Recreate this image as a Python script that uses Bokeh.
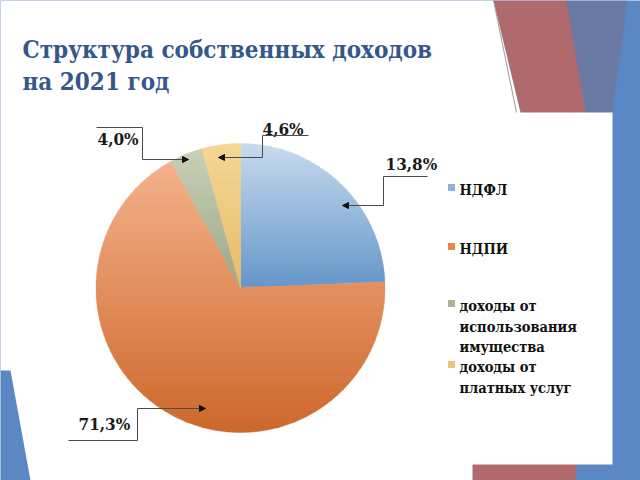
import numpy as np
from bokeh.plotting import figure
from bokeh.models import Range1d, Arrow, NormalHead
from bokeh.core.properties import value
from bokeh.embed import file_html
from bokeh.resources import INLINE

# ---------------- data ----------------
title_lines = ["Структура собственных доходов", "на 2021 год"]
categories = ["НДФЛ", "НДПИ", "доходы от использования имущества", "доходы от платных услуг"]
legend_lines = [["НДФЛ"], ["НДПИ"], ["доходы от", "использования", "имущества"], ["доходы от", "платных услуг"]]
slice_share = [24.3, 67.7, 3.7, 4.3]          # shares as drawn in the picture (%)
label_text = ["13,8%", "71,3%", "4,0%", "4,6%"]  # data labels as printed
top_colors = ["#c8dbee", "#f5b28c", "#cad0b6", "#f4d795"]
bottom_colors = ["#6596c9", "#cd682c", "#9ca889", "#e8bb6a"]
legend_colors = ["#8fb2da", "#e3874f", "#aab496", "#edc576"]

FONT = value("DejaVu Serif Condensed")

H = 480
p = figure(width=640, height=H, output_backend="svg", toolbar_location=None,
           x_range=Range1d(0, 640), y_range=Range1d(H, 0), min_border=0,
           background_fill_color="#5b87c4", border_fill_color="#5b87c4")
p.axis.visible = False
p.grid.visible = False
p.outline_line_color = None

# ---------------- slide decoration ----------------
p.patch([493, 566, 590, 575, 470, 520], [0, 0, 112, 480, 480, 112], fill_color="#b06a6e", line_color=None)
p.patch([566, 627, 612, 585], [0, 0, 112, 112], fill_color="#6b7aa5", line_color=None)
# white slide body and chart area
p.patch([0, 493, 520, 612, 612, 472, 472, 0], [0, 0, 112, 112, 464, 464, 480, 480],
        fill_color="white", line_color=None)
p.patch([0, 10, 30, 0], [370, 370, 480, 480], fill_color="#5b87c4", line_color=None)
p.line([493, 516], [0, 112], line_color="#9a9a9a", line_width=1)

# ---------------- title ----------------
p.text(x=[22, 22], y=[49, 81], text=title_lines, text_font=FONT, text_font_style="bold",
       text_font_size="24px", text_color="#36578a", text_baseline="alphabetic")

# ---------------- pie with vertical gradient per slice ----------------
cx, cy, R = 240.0, 287.5, 144.5


def hex2rgb(h):
    h = h.lstrip("#")
    return np.array([int(h[i:i + 2], 16) for i in (0, 2, 4)], dtype=float)


def rgb2hex(c):
    c = np.clip(np.round(c), 0, 255).astype(int)
    return "#%02x%02x%02x" % tuple(c)


def clip_half(poly, y0, keep_below):
    out = []
    n = len(poly)
    for i in range(n):
        a = poly[i]
        b = poly[(i + 1) % n]
        ina = a[1] >= y0 if keep_below else a[1] <= y0
        inb = b[1] >= y0 if keep_below else b[1] <= y0
        if ina:
            out.append(a)
        if ina != inb:
            t = (y0 - a[1]) / (b[1] - a[1])
            out.append((a[0] + t * (b[0] - a[0]), y0))
    return out


xs_all, ys_all, cols_all = [], [], []
cum = 0.0
for i, share in enumerate(slice_share):
    a0 = np.pi / 2 - 2 * np.pi * cum / 100.0
    cum += share
    a1 = np.pi / 2 - 2 * np.pi * cum / 100.0
    npts = max(8, int(abs(a0 - a1) * 80))
    ang = np.linspace(a0, a1, npts)
    poly = [(cx, cy)] + [(cx + R * np.cos(a), cy - R * np.sin(a)) for a in ang]
    ymin = min(pt[1] for pt in poly)
    ymax = max(pt[1] for pt in poly)
    nb = 50
    edges = np.linspace(ymin, ymax, nb + 1)
    ct, cb = hex2rgb(top_colors[i]), hex2rgb(bottom_colors[i])
    for b in range(nb):
        lo, hi = edges[b], edges[b + 1] + 0.6
        part = clip_half(poly, lo, True)
        if len(part) < 3:
            continue
        part = clip_half(part, hi, False)
        if len(part) < 3:
            continue
        t = (b + 0.5) / nb
        col = rgb2hex(ct + (cb - ct) * t)
        xs_all.append([pt[0] for pt in part])
        ys_all.append([pt[1] for pt in part])
        cols_all.append(col)

p.patches(xs_all, ys_all, fill_color=cols_all, line_color=cols_all, line_width=0.4)

# ---------------- data labels with leader lines ----------------
label_x = [385, 78, 97, 262]
label_y = [163, 423, 138, 128]
p.text(x=label_x, y=label_y, text=label_text, text_font=FONT, text_font_style="bold",
       text_font_size="17px", text_color="#1a1a1a", text_baseline="middle", text_align="left")

leaders = [
    ([427, 383, 383], [176, 176, 205], (342, 205)),
    ([68, 137, 137], [440, 440, 408], (205, 408)),
    ([96, 142, 142], [127, 127, 159], (188, 159)),
    ([308, 262, 262], [135, 135, 157], (218, 157)),
]
p.multi_line([l[0] for l in leaders], [l[1] for l in leaders], line_color="#4a4a4a", line_width=1)
for lx, ly, tip in leaders:
    p.add_layout(Arrow(end=NormalHead(size=6, fill_color="#111111", line_color="#111111"),
                       x_start=lx[-1], y_start=ly[-1], x_end=tip[0], y_end=tip[1],
                       line_color="#4a4a4a", line_width=1))

# ---------------- legend ----------------
leg_first_y = [189, 248, 305, 366]
line_gap = 20.5
tx, ty, tt = [], [], []
for lines, y0 in zip(legend_lines, leg_first_y):
    for k, s in enumerate(lines):
        tx.append(459)
        ty.append(y0 + k * line_gap)
        tt.append(s)
p.scatter(x=[451] * 4, y=[y - 2 for y in leg_first_y], marker="square", size=7,
          fill_color=legend_colors, line_color=None)
p.text(x=tx, y=ty, text=tt, text_font=FONT, text_font_style="bold", text_font_size="14.5px",
       text_color="#111111", text_baseline="middle", text_align="left")

open("out.html", "w").write(file_html(p, INLINE))
